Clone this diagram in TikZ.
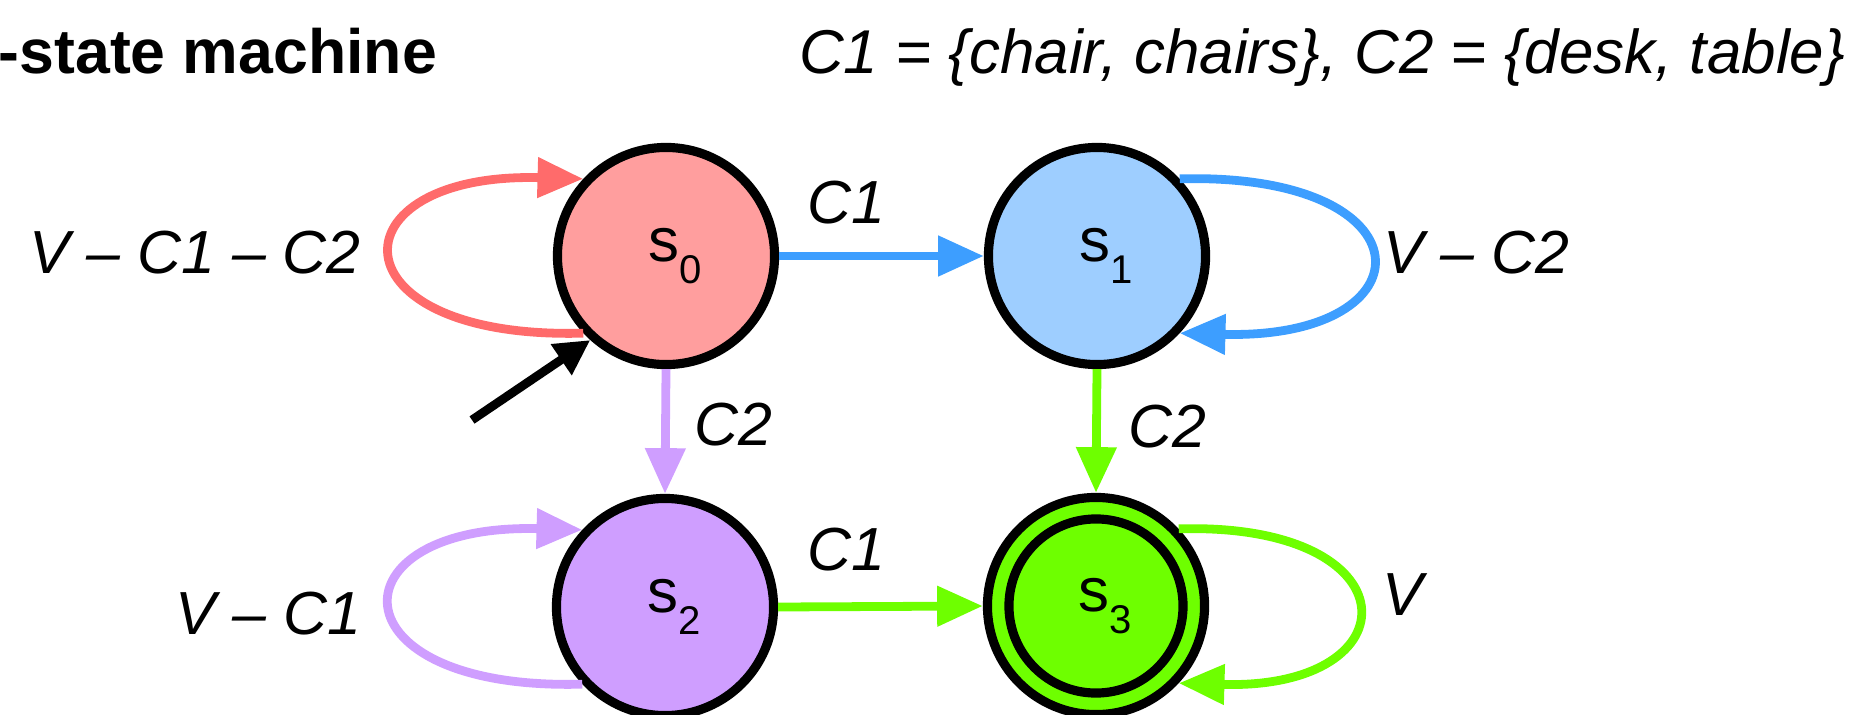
\documentclass[tikz,border=0pt]{standalone}
\usepackage{fontspec}
\setmainfont{Liberation Sans}
\usetikzlibrary{arrows.meta}
\definecolor{redfill}{HTML}{FF9E9E}
\definecolor{rededge}{HTML}{FF6B6B}
\definecolor{bluefill}{HTML}{9ECEFF}
\definecolor{blueedge}{HTML}{3D9EFF}
\definecolor{purp}{HTML}{CF9EFF}
\definecolor{grn}{HTML}{6EFF00}
\newcommand{\stname}[1]{\kern5pt s\raisebox{-6.3pt}{\fontsize{11.4}{12}\selectfont #1}}
\begin{document}
\begin{tikzpicture}[x=0.01cm,y=-0.01cm,
  state/.style={circle,draw=black,line width=2.6pt,inner sep=0pt,minimum size=2.17cm,
    font=\fontsize{17.6}{20}\selectfont},
  edge/.style={line width=2.5pt,-{Triangle[length=13pt,width=11pt]}},
  lbl/.style={font=\fontsize{17.3}{20}\selectfont\itshape,inner sep=0pt,anchor=base},
]
\useasboundingbox (0,0) rectangle (1854,715);

\node[state,fill=redfill] (s0) at (666,256) {\stname{0}};
\node[state,fill=bluefill] (s1) at (1097,256) {\stname{1}};
\node[state,fill=purp] (s2) at (665,607) {\stname{2}};
\node[state,fill=grn] (s3) at (1096,606) {\stname{3}};
\draw[line width=2.6pt] (s3.center) circle[radius=0.87cm];

% straight transitions
\draw[edge,blueedge] (s0.east) -- (s1.west);
\draw[edge,purp] (s0.south) -- (s2.north);
\draw[edge,grn] (s1.south) -- (s3.north);
\draw[edge,grn] (s2.east) -- (s3.west);

% self loops
\draw[edge,rededge] (s0.223) .. controls (330,340) and (330,172) .. (s0.137);
\draw[edge,blueedge] (s1.43) .. controls (1433,172) and (1433,340) .. (s1.-43);
\draw[edge,purp] (s2.223) .. controls (330,691) and (330,523) .. (s2.137);
\draw[edge,grn] (s3.43) .. controls (1415,522) and (1415,690) .. (s3.-43);

% initial arrow
\coordinate (init) at (472,420);
\draw[line width=2.5pt,-{Triangle[length=10pt,width=10pt]}] (init) -- (s0.228);

% labels
\node[lbl] (l0) at (195,273) {V – C1 – C2};
\node[lbl] (l1) at (1476,273) {V – C2};
\node[lbl] (l2) at (268,634) {V – C1};
\node[lbl] (l3) at (1403,615) {V};
\node[lbl] (c1a) at (846,223) {C1};
\node[lbl] (c1b) at (846,570) {C1};
\node[lbl] (c2a) at (733,445) {C2};
\node[lbl] (c2b) at (1167,447) {C2};

\node[font=\fontsize{17.6}{20}\selectfont\itshape,inner sep=0pt,anchor=base] (hdr) at (1322,73)
  {C1 = \{chair, chairs\}, C2 = \{desk, table\}};
\node[font=\fontsize{17.8}{20}\selectfont\bfseries,inner sep=0pt,anchor=base west] (title) at (-2,73)
  {-state machine};
\end{tikzpicture}
\end{document}
